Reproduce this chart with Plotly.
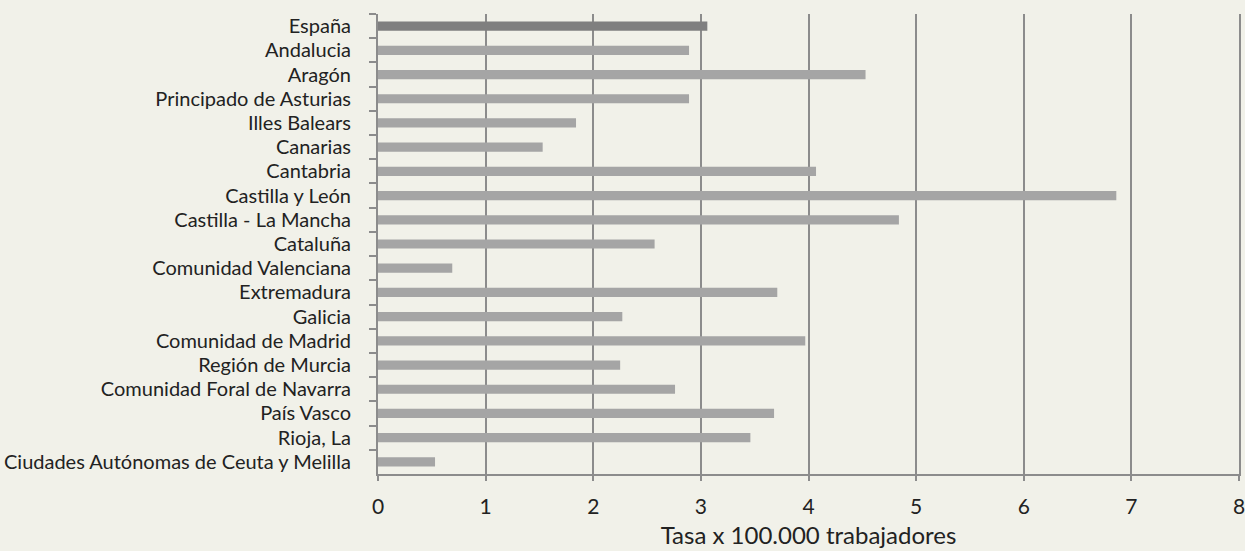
import plotly.graph_objs as go

regiones = ["España", "Andalucia", "Aragón", "Principado de Asturias", "Illes Balears", "Canarias",
            "Cantabria", "Castilla y León", "Castilla - La Mancha", "Cataluña", "Comunidad Valenciana",
            "Extremadura", "Galicia", "Comunidad de Madrid", "Región de Murcia",
            "Comunidad Foral de Navarra", "País Vasco", "Rioja, La",
            "Ciudades Autónomas de Ceuta y Melilla"]
tasa = [3.06, 2.89, 4.53, 2.89, 1.84, 1.53, 4.07, 6.86, 4.84, 2.57, 0.69,
        3.71, 2.27, 3.97, 2.25, 2.76, 3.68, 3.46, 0.53]
x_ticks = [0, 1, 2, 3, 4, 5, 6, 7, 8]

colores = ["#7F7F7F"] + ["#A5A5A5"] * (len(regiones) - 1)

fig = go.Figure()
fig.add_bar(x=tasa, y=regiones, orientation='h', marker=dict(color=colores, line=dict(width=0)),
            showlegend=False)

fig.update_xaxes(range=[0, 8], tickvals=x_ticks, ticktext=[str(v) for v in x_ticks],
                 showgrid=True, gridcolor="#8C8C8C", gridwidth=2,
                 showline=True, linecolor="#8C8C8C", linewidth=2,
                 ticks="outside", ticklen=5, tickwidth=2, tickcolor="#8C8C8C",
                 tickfont=dict(size=21, color="#222"), ticklabelstandoff=8, ticklabeloverflow="allow",
                 zeroline=False, automargin=False,
                 title=dict(text="Tasa x 100.000 trabajadores", font=dict(size=24, color="#222"), standoff=10))
# mirror=True dibuja la linea vertical en x=8
fig.update_yaxes(type='category', categoryorder='array', categoryarray=regiones, autorange='reversed',
                 showline=True, linecolor="#8C8C8C", linewidth=2, showgrid=False, mirror=True,
                 ticks="outside", ticklen=7, tickwidth=2, tickcolor="#8C8C8C", tickson="boundaries",
                 tickfont=dict(size=20, color="#222"), ticklabelstandoff=21, automargin=False)

# Estética general
fig.update_layout(width=1245, height=551, bargap=0.62,
                  margin=dict(l=378, r=6, t=14, b=77),
                  paper_bgcolor="#F1F1E9", plot_bgcolor="#F1F1E9",
                  font=dict(family="Lato, Open Sans, sans-serif", color="#222"))
# sin margen del body para que la figura llene la ventana
fig.write_html("out.html", config={"displayModeBar": False},
               post_script="document.body.style.margin='0';")
